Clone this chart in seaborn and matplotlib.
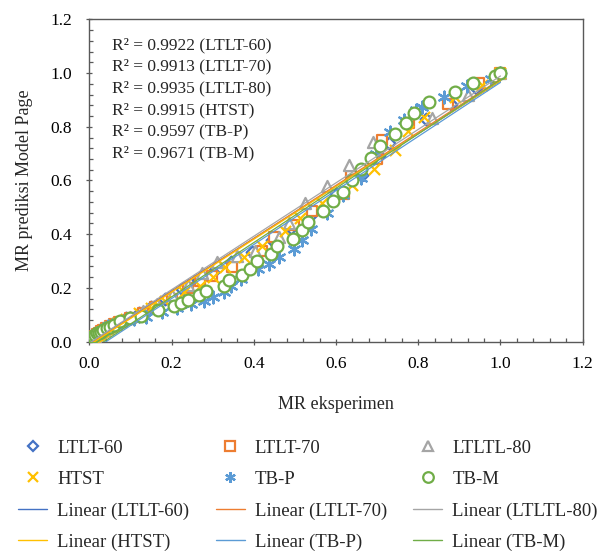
import numpy as np
import pandas as pd
import matplotlib
matplotlib.use("Agg")
import matplotlib.pyplot as plt
from matplotlib.lines import Line2D
from matplotlib.ticker import MultipleLocator, FormatStrFormatter
import seaborn as sns

# ---------------- data ----------------
names = ["LTLT-60", "LTLT-70", "LTLTL-80", "HTST", "TB-P", "TB-M"]
r2_labels = ["R\u00b2 = 0.9922 (LTLT-60)", "R\u00b2 = 0.9913 (LTLT-70)",
             "R\u00b2 = 0.9935 (LTLT-80)", "R\u00b2 = 0.9915 (HTST)",
             "R\u00b2 = 0.9597 (TB-P)", "R\u00b2 = 0.9671 (TB-M)"]

ltlt60_x = [0.000, 0.003, 0.006, 0.009, 0.012, 0.016, 0.020, 0.025, 0.030, 0.037, 0.045, 0.055,
            0.065, 0.090, 0.120, 0.150, 0.185, 0.225, 0.265,
            0.300, 0.345, 0.395, 0.445, 0.490, 0.545, 0.600, 0.663, 0.705, 0.730, 0.820, 0.880,
            0.940, 1.000]
ltlt60_y = [0.002, 0.007, 0.012, 0.017, 0.021, 0.026, 0.031, 0.036, 0.041, 0.047, 0.054, 0.062,
            0.070, 0.088, 0.108, 0.130, 0.158, 0.195, 0.228,
            0.258, 0.295, 0.335, 0.380, 0.425, 0.478, 0.550, 0.620, 0.690, 0.740, 0.830, 0.885,
            0.945, 1.000]

ltlt70_x = [0.000, 0.003, 0.006, 0.010, 0.014, 0.018, 0.023, 0.028, 0.034, 0.041, 0.050, 0.060,
            0.072, 0.100, 0.130, 0.160, 0.200, 0.240, 0.270,
            0.299, 0.347, 0.420, 0.449, 0.497, 0.542, 0.619, 0.637, 0.700, 0.712, 0.778, 0.872,
            0.947, 1.000]
ltlt70_y = [0.003, 0.008, 0.013, 0.018, 0.023, 0.028, 0.033, 0.038, 0.044, 0.050, 0.058, 0.066,
            0.074, 0.090, 0.108, 0.130, 0.160, 0.200, 0.225,
            0.246, 0.277, 0.338, 0.388, 0.433, 0.486, 0.548, 0.616, 0.680, 0.752, 0.815, 0.885,
            0.962, 1.000]

ltltl80_x = [0.000, 0.003, 0.006, 0.010, 0.014, 0.018, 0.023, 0.029, 0.036, 0.044, 0.054, 0.065,
             0.078, 0.100, 0.130, 0.165, 0.200, 0.240, 0.275,
             0.311, 0.360, 0.404, 0.461, 0.485, 0.524, 0.578, 0.631, 0.690, 0.833, 0.920, 1.000]
ltltl80_y = [0.002, 0.007, 0.012, 0.017, 0.022, 0.027, 0.032, 0.038, 0.044, 0.051, 0.059, 0.067,
             0.076, 0.092, 0.114, 0.142, 0.172, 0.212, 0.255,
             0.295, 0.318, 0.338, 0.388, 0.443, 0.515, 0.579, 0.659, 0.742, 0.832, 0.919, 1.000]

htst_x = [0.000, 0.003, 0.006, 0.010, 0.014, 0.018, 0.023, 0.028, 0.034, 0.041, 0.049, 0.058,
          0.068, 0.090, 0.120, 0.150, 0.185, 0.230, 0.270,
          0.300, 0.331, 0.376, 0.420, 0.477, 0.513, 0.566, 0.639, 0.692, 0.743, 0.775, 0.813,
          0.889, 0.955, 1.000]
htst_y = [0.000, 0.005, 0.010, 0.015, 0.020, 0.025, 0.030, 0.035, 0.041, 0.047, 0.054, 0.061,
          0.069, 0.086, 0.106, 0.126, 0.151, 0.186, 0.209,
          0.240, 0.277, 0.314, 0.357, 0.412, 0.462, 0.517, 0.585, 0.641, 0.715, 0.783, 0.838,
          0.912, 0.956, 1.000]

tbp_x = [0.000, 0.002, 0.004, 0.006, 0.009, 0.012, 0.016, 0.020, 0.025, 0.031, 0.038, 0.046,
         0.055, 0.078, 0.108, 0.138, 0.178, 0.213,
         0.248, 0.278, 0.301, 0.328, 0.345, 0.370, 0.410, 0.438, 0.462, 0.498, 0.518, 0.540,
         0.578, 0.618, 0.661, 0.698, 0.732, 0.766, 0.795, 0.809, 0.863, 0.919, 0.977, 1.000]
tbp_y = [0.004, 0.008, 0.012, 0.016, 0.020, 0.024, 0.029, 0.034, 0.039, 0.045, 0.051, 0.057,
         0.063, 0.073, 0.083, 0.091, 0.110, 0.125,
         0.140, 0.152, 0.166, 0.185, 0.209, 0.233, 0.270, 0.290, 0.315, 0.344, 0.380, 0.419,
         0.480, 0.545, 0.610, 0.700, 0.781, 0.826, 0.863, 0.874, 0.911, 0.952, 0.978, 1.000]

tbm_x = [0.000, 0.002, 0.004, 0.007, 0.010, 0.014, 0.019, 0.024, 0.028, 0.034, 0.042, 0.050,
         0.060, 0.075, 0.100, 0.125, 0.168, 0.205,
         0.222, 0.239, 0.266, 0.283, 0.327, 0.339, 0.372, 0.392, 0.409, 0.441, 0.457, 0.496,
         0.518, 0.533, 0.569, 0.593, 0.617, 0.639, 0.662, 0.686, 0.706, 0.744, 0.771, 0.789,
         0.827, 0.890, 0.933, 0.987, 1.000]
tbm_y = [0.006, 0.010, 0.014, 0.018, 0.021, 0.026, 0.031, 0.034, 0.037, 0.043, 0.050, 0.056,
         0.064, 0.078, 0.087, 0.095, 0.117, 0.132,
         0.143, 0.154, 0.172, 0.187, 0.206, 0.228, 0.250, 0.272, 0.299, 0.328, 0.358, 0.383,
         0.417, 0.446, 0.485, 0.525, 0.559, 0.602, 0.643, 0.683, 0.729, 0.772, 0.813, 0.853,
         0.893, 0.928, 0.964, 0.988, 1.000]

xs = [ltlt60_x, ltlt70_x, ltltl80_x, htst_x, tbp_x, tbm_x]
ys = [ltlt60_y, ltlt70_y, ltltl80_y, htst_y, tbp_y, tbm_y]

colors = ["#4472C4", "#ED7D31", "#A5A5A5", "#FFC000", "#5B9BD5", "#70AD47"]
markers = ["D", "s", "^", "x", (6, 2, 0), "o"]
msizes = [6.0, 7.5, 8.0, 8.0, 8.5, 8.5]
filled = [True, True, True, False, False, True]

# ---------------- figure ----------------
sns.set_theme(style="white")
plt.rcParams["font.family"] = ["Liberation Serif", "DejaVu Serif"]

fig = plt.figure(figsize=(6.02, 5.54), dpi=100)
ax = fig.add_axes([0.1483, 0.3832, 0.8196, 0.582])

for x, y, c, m, ms, f in zip(xs, ys, colors, markers, msizes, filled):
    if f:
        sns.scatterplot(x=x, y=y, ax=ax, marker=m, s=ms ** 2, facecolor="white",
                        edgecolor=c, linewidth=1.6, zorder=3)
    else:
        sns.scatterplot(x=x, y=y, ax=ax, marker=m, s=ms ** 2, color=c,
                        linewidth=1.6, zorder=3)

for x, y, c in zip(xs, ys, colors):
    sns.regplot(x=np.array(x), y=np.array(y), ax=ax, scatter=False, ci=None,
                color=c, truncate=True, line_kws={"lw": 0.9, "zorder": 4})

ax.set_xlim(0, 1.2)
ax.set_ylim(0, 1.2)
ax.xaxis.set_major_locator(MultipleLocator(0.2))
ax.yaxis.set_major_locator(MultipleLocator(0.2))
ax.xaxis.set_minor_locator(MultipleLocator(0.04))
ax.yaxis.set_minor_locator(MultipleLocator(0.04))
ax.xaxis.set_major_formatter(FormatStrFormatter("%.1f"))
ax.yaxis.set_major_formatter(FormatStrFormatter("%.1f"))

tick_col = "#595959"
ax.tick_params(axis="both", which="major", direction="inout", length=5, width=0.9,
               color=tick_col, labelsize=12.5, labelcolor="black")
ax.tick_params(axis="x", which="major", pad=8, bottom=True)
ax.tick_params(axis="y", which="major", pad=10, left=True)
ax.tick_params(axis="both", which="minor", direction="in", length=3, width=0.9,
               color=tick_col, bottom=True, left=True)
for s in ax.spines.values():
    s.set_color("#595959")
    s.set_linewidth(1.0)

ax.set_xlabel("MR eksperimen", fontsize=13)
ax.set_ylabel("MR prediksi Model Page", fontsize=13)
ax.xaxis.set_label_coords(0.5, -0.167)
ax.yaxis.set_label_coords(-0.114, 0.5)

for i, t in enumerate(r2_labels):
    ax.text(0.046, 0.920 - i * 0.0673, t, transform=ax.transAxes, fontsize=12.5,
            va="center", ha="left")

# ---------------- legend ----------------
mk_handles = []
ln_handles = []
for n, c, m, ms, f in zip(names, colors, markers, msizes, filled):
    if f:
        mk_handles.append(Line2D([], [], linestyle="None", marker=m, markersize=ms * 0.9,
                                 markerfacecolor="white", markeredgecolor=c, markeredgewidth=1.6))
    else:
        mk_handles.append(Line2D([], [], linestyle="None", marker=m, markersize=ms * 0.9,
                                 color=c, markeredgewidth=1.6))
    ln_handles.append(Line2D([], [], color=c, lw=1.0))

lin_labels = ["Linear (%s)" % n for n in names]
handles, labels = [], []
for col in range(3):
    for row_src in (0, 1):
        k = col + 3 * row_src
        handles.append(mk_handles[k]); labels.append(names[k])
    for row_src in (0, 1):
        k = col + 3 * row_src
        handles.append(ln_handles[k]); labels.append(lin_labels[k])

fig.legend(handles, labels, ncol=3, loc="upper left", bbox_to_anchor=(0.0299, 0.2067),
           frameon=False, fontsize=13.5, handlelength=1.55, handletextpad=0.53,
           columnspacing=1.41, labelspacing=0.76, borderpad=0, borderaxespad=0, numpoints=1)

fig.savefig("out.png", dpi=100)
